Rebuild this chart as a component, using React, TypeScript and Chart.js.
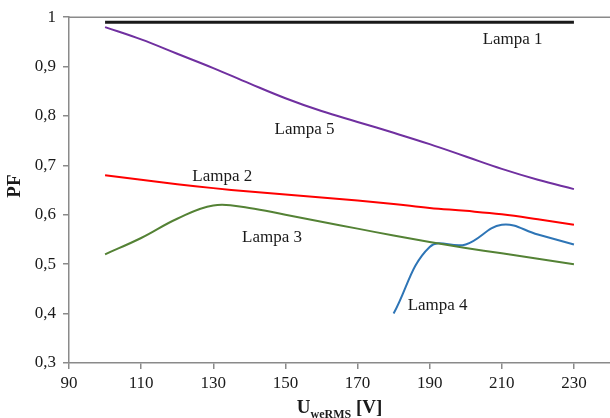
import React, { useEffect, useRef } from "react";
import { Chart, registerables } from "chart.js";

Chart.register(...registerables);

const voltages = [100, 110, 120, 130, 140, 150, 160, 170, 180, 190, 200, 210, 220, 230];
const lampa1 = [0.99, 0.99, 0.99, 0.99, 0.99, 0.99, 0.99, 0.99, 0.99, 0.99, 0.99, 0.99, 0.99, 0.99];
const lampa2 = [0.68, 0.671, 0.662, 0.654, 0.647, 0.641, 0.635, 0.629, 0.622, 0.614, 0.608, 0.601, 0.591, 0.58];
const lampa3 = [0.52, 0.553, 0.592, 0.619, 0.614, 0.6, 0.586, 0.572, 0.558, 0.545, 0.533, 0.522, 0.511, 0.5];
const lampa5 = [0.98, 0.955, 0.926, 0.897, 0.866, 0.836, 0.81, 0.788, 0.766, 0.743, 0.718, 0.693, 0.671, 0.652];
const lampa4Voltages = [180, 190, 200, 210, 220, 230];
const lampa4 = [0.4, 0.535, 0.54, 0.58, 0.56, 0.54];

const xTickValues = [90, 110, 130, 150, 170, 190, 210, 230];

const labelTexts = ["Lampa 1", "Lampa 2", "Lampa 3", "Lampa 4", "Lampa 5"];
const labelX = [213, 132.5, 146.3, 192.2, 155.3];
const labelY = [0.955, 0.677, 0.553, 0.417, 0.772];

const toPoints = (xs: number[], ys: number[]) => xs.map((x, i) => ({ x, y: ys[i] }));

const AXIS_COLOR = "#8a8a8a";
const TEXT_COLOR = "#1a1a1a";
const SERIF = '"Liberation Serif", "Times New Roman", serif';

const overlayPlugin = {
  id: "overlay",
  afterDraw(chart: any) {
    const { ctx, chartArea, scales } = chart;
    const xs = scales.x;
    const ys = scales.y;
    ctx.save();
    ctx.strokeStyle = AXIS_COLOR;
    ctx.lineWidth = 1.5;
    ctx.beginPath();
    ctx.moveTo(chartArea.left, chartArea.top);
    ctx.lineTo(chartArea.right, chartArea.top);
    ctx.stroke();

    ctx.fillStyle = TEXT_COLOR;
    ctx.font = `17px ${SERIF}`;
    ctx.textAlign = "center";
    ctx.textBaseline = "middle";
    labelTexts.forEach((t, i) => {
      ctx.fillText(t, xs.getPixelForValue(labelX[i]), ys.getPixelForValue(labelY[i]));
    });

    ctx.save();
    ctx.translate(15, (chartArea.top + chartArea.bottom) / 2 - 4);
    ctx.rotate(-Math.PI / 2);
    ctx.font = `bold 19px ${SERIF}`;
    ctx.textAlign = "center";
    ctx.textBaseline = "middle";
    ctx.fillText("PF", 0, 0);
    ctx.restore();

    const big = `bold 19px ${SERIF}`;
    const small = `bold 12px ${SERIF}`;
    ctx.textAlign = "left";
    ctx.textBaseline = "alphabetic";
    ctx.font = big;
    const wU = ctx.measureText("U").width;
    const wV = ctx.measureText(" [V]").width;
    ctx.font = small;
    const wSub = ctx.measureText("weRMS").width;
    const total = wU + wSub + wV;
    const cx = (chartArea.left + chartArea.right) / 2;
    let x = cx - total / 2;
    const baseY = 413;
    ctx.font = big;
    ctx.fillText("U", x, baseY);
    x += wU;
    ctx.font = small;
    ctx.fillText("weRMS", x, baseY + 5);
    x += wSub;
    ctx.font = big;
    ctx.fillText(" [V]", x, baseY);
    ctx.restore();
  },
};

export default function App() {
  const canvasRef = useRef<HTMLCanvasElement | null>(null);

  useEffect(() => {
    if (!canvasRef.current) return;
    const line = (label: string, xs: number[], ys: number[], color: string, width: number) => ({
      label,
      data: toPoints(xs, ys),
      borderColor: color,
      backgroundColor: color,
      borderWidth: width,
      pointRadius: 0,
      tension: 0.4,
      fill: false,
    });
    const chart = new Chart(canvasRef.current, {
      type: "line",
      data: {
        datasets: [
          line("Lampa 1", voltages, lampa1, "#1a1a1a", 3),
          line("Lampa 5", voltages, lampa5, "#7030A0", 2),
          line("Lampa 2", voltages, lampa2, "#FF0000", 2),
          line("Lampa 3", voltages, lampa3, "#548235", 2),
          line("Lampa 4", lampa4Voltages, lampa4, "#2E75B6", 2),
        ],
      },
      options: {
        animation: false,
        responsive: false,
        maintainAspectRatio: false,
        layout: { padding: { top: 17, right: 0, left: 0, bottom: 0 } },
        plugins: {
          legend: { display: false },
          tooltip: { enabled: false },
        },
        scales: {
          x: {
            type: "linear",
            min: 90,
            max: 240,
            afterBuildTicks: (scale: any) => {
              scale.ticks = xTickValues.map((v) => ({ value: v }));
            },
            afterFit: (scale: any) => {
              scale.height = 55;
            },
            ticks: {
              color: TEXT_COLOR,
              font: { family: SERIF, size: 17 },
              padding: 4,
              maxRotation: 0,
              autoSkip: false,
            },
            grid: {
              drawOnChartArea: false,
              drawTicks: true,
              tickLength: 6,
              color: AXIS_COLOR,
              lineWidth: 1.5,
            },
            border: { display: true, color: AXIS_COLOR, width: 1.5 },
          },
          y: {
            type: "linear",
            min: 0.3,
            max: 1,
            afterFit: (scale: any) => {
              scale.width = 69;
            },
            ticks: {
              stepSize: 0.1,
              color: TEXT_COLOR,
              font: { family: SERIF, size: 17 },
              padding: 7,
              callback: (v: any) => {
                const n = Number(v);
                if (Math.abs(n - 1) < 1e-9) return "1";
                return n.toFixed(1).replace(".", ",");
              },
            },
            grid: {
              drawOnChartArea: false,
              drawTicks: true,
              tickLength: 6,
              color: AXIS_COLOR,
              lineWidth: 1.5,
            },
            border: { display: true, color: AXIS_COLOR, width: 1.5 },
          },
        },
      },
      plugins: [overlayPlugin],
    } as any);
    return () => chart.destroy();
  }, []);

  return (
    <div style={{ position: "fixed", left: 0, top: 0, width: 610, height: 418, background: "#fff" }}>
      <canvas ref={canvasRef} width={610} height={418} style={{ width: 610, height: 418 }} />
    </div>
  );
}
